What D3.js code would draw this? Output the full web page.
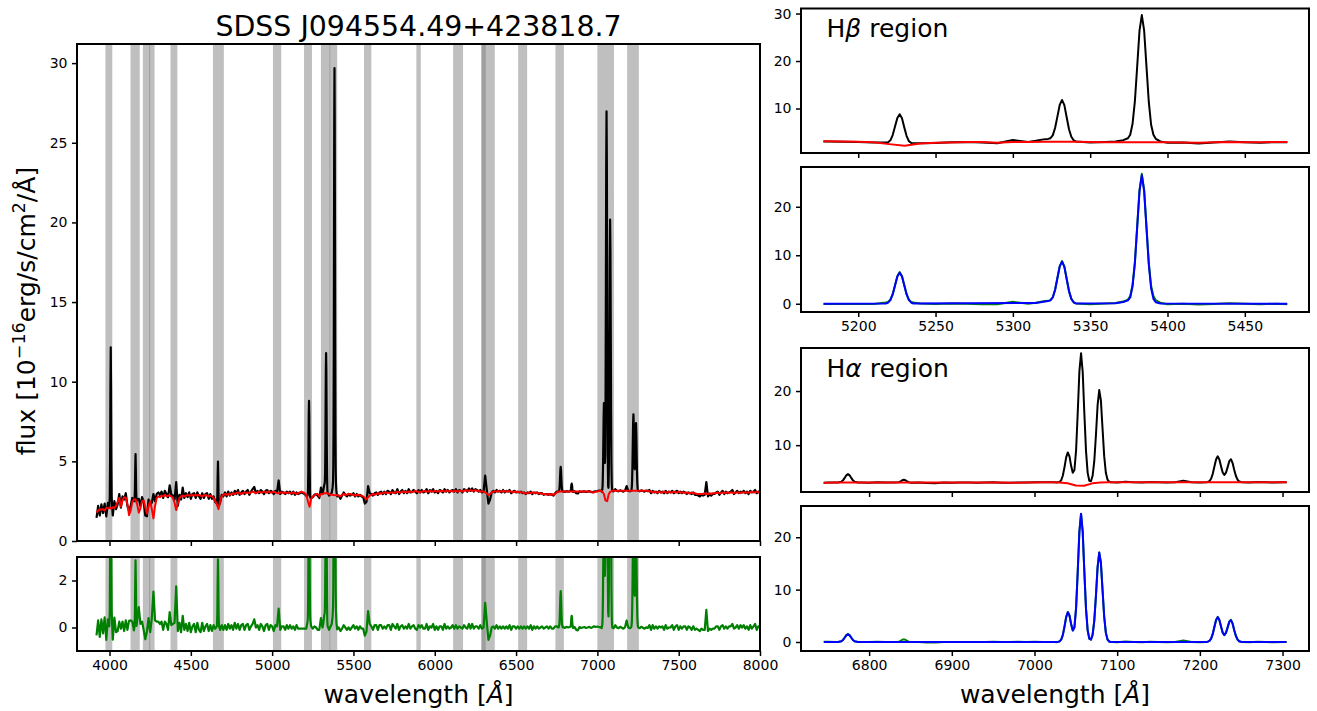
<!DOCTYPE html>
<html><head><meta charset="utf-8">
<script src="https://cdn.jsdelivr.net/npm/d3@7"></script>
<style>body{margin:0;background:#fff}svg{display:block}text{font-family:"DejaVu Sans",sans-serif}</style>
</head><body><svg id="c" width="1317" height="711"></svg>
<script>
// ---------------- DATA ----------------
const titleText = "SDSS J094554.49+423818.7";
// regular wavelength sampling of the continuum spectrum (Angstrom)
const gridStart = 3920, gridStep = 10;
// stellar (host) model flux, red
const stellarFlux = [
1.78,1.9,2.0,1.95,2.0,1.92,2.08,2.05,2.1,2.02,
2.12,2.08,2.2,2.45,2.7,2.15,2.55,2.75,2.7,2.3,
1.62,1.9,2.45,2.62,2.6,2.3,1.78,2.05,2.5,2.55,
2.1,1.72,2.2,2.5,2.0,1.42,2.2,2.7,2.8,2.75,
2.85,2.8,2.9,2.8,2.85,2.85,2.8,2.7,2.4,1.95,
2.35,2.7,2.8,2.85,2.8,2.85,2.9,2.85,2.85,2.9,
2.85,2.9,2.85,2.9,2.85,2.8,2.85,2.9,2.85,2.8,
2.85,2.8,2.7,2.5,2.3,2.0,2.5,2.8,2.9,2.95,
2.9,2.95,2.9,2.95,3.0,2.95,3.0,3.05,3.0,2.95,
3.0,3.05,3.0,3.05,3.0,3.05,3.1,3.05,3.0,3.05,
3.1,3.05,3.05,3.1,3.05,3.05,3.1,3.05,3.05,3.1,
3.05,3.0,3.0,3.05,3.05,3.0,3.05,3.0,3.05,3.0,
3.0,3.05,3.0,2.95,3.0,3.05,3.1,3.05,3.0,2.9,
2.5,2.15,2.65,2.8,2.85,2.95,2.95,2.8,2.95,2.95,
3.0,3.0,3.0,2.95,2.9,2.9,2.88,2.87,2.88,2.85,
2.8,2.9,2.95,2.9,2.9,2.95,2.95,2.9,2.9,2.85,
2.9,2.9,2.85,2.85,2.8,2.7,2.62,2.75,2.85,2.9,
2.95,2.9,2.95,3.0,2.95,3.0,3.0,3.05,3.0,3.05,
3.0,3.05,3.05,3.0,3.05,3.1,3.05,3.05,3.1,3.05,
3.1,3.05,3.1,3.1,3.05,3.1,3.15,3.1,3.1,3.05,
3.1,3.1,3.15,3.1,3.1,3.15,3.1,3.1,3.15,3.1,
3.1,3.15,3.1,3.15,3.1,3.15,3.15,3.1,3.15,3.1,
3.15,3.15,3.1,3.15,3.15,3.1,3.15,3.2,3.15,3.15,
3.2,3.15,3.15,3.2,3.15,3.15,3.1,3.1,3.1,3.05,
2.98,2.88,2.95,3.05,3.1,3.1,3.1,3.15,3.1,3.1,
3.15,3.1,3.1,3.15,3.1,3.1,3.05,3.1,3.1,3.05,
3.1,3.05,3.05,3.0,3.0,3.0,3.05,3.0,3.05,3.0,
3.05,3.0,3.0,3.0,2.95,2.95,2.95,2.9,2.95,2.9,
2.95,2.9,2.95,3.05,3.1,3.1,3.1,3.1,3.1,3.1,
3.1,3.1,3.1,3.1,3.1,3.1,3.1,3.1,3.1,3.1,
3.1,3.1,3.1,3.1,3.1,3.05,3.05,3.1,3.1,3.15,
3.15,3.1,2.95,2.55,2.5,2.95,3.1,3.15,3.15,3.15,
3.15,3.15,3.15,3.15,3.15,3.15,3.15,3.15,3.15,3.15,
3.15,3.15,3.15,3.15,3.15,3.15,3.15,3.15,3.15,3.15,
3.1,3.1,3.05,3.1,3.05,3.05,3.1,3.05,3.05,3.1,
3.05,3.05,3.1,3.05,3.05,3.1,3.05,3.05,3.1,3.05,
3.05,3.05,3.0,3.05,3.0,3.0,3.05,3.0,3.0,2.95,
2.95,2.95,2.95,2.95,3.0,2.95,2.95,3.0,2.95,3.0,
3.0,3.0,3.05,3.0,3.0,3.05,3.0,3.05,3.05,3.0,
3.05,3.05,3.0,3.05,3.05,3.05,3.0,3.05,3.05,3.05,
3.05,3.05,3.05,3.1,3.05,3.05,3.1,3.05,3.05];
// observed flux on the same sampling, black
const dataFlux = [
1.45,2.2,1.6,2.3,1.75,2.35,1.55,2.4,2.0,2.3,
1.6,2.5,2.0,2.3,2.95,2.1,2.8,2.6,3.0,2.2,
1.9,2.2,2.7,2.5,2.6,2.6,2.65,2.2,2.75,2.45,
1.6,1.55,2.6,2.3,2.4,2.95,2.5,2.95,3.05,2.9,
3.1,2.7,3.15,2.95,2.75,3.5,2.9,2.85,2.6,3.7,
2.2,2.9,2.6,3.35,2.7,3.0,2.75,3.05,2.65,2.95,
3.0,2.7,3.05,2.8,2.65,3.0,2.7,2.95,3.0,2.65,
2.95,2.65,2.8,2.45,2.35,2.1,2.4,2.9,2.8,3.05,
2.8,3.1,2.85,3.05,2.9,3.15,2.95,3.2,2.9,3.05,
3.15,2.95,3.1,3.2,2.9,3.1,3.25,3.4,3.0,3.15,
3.0,3.2,3.1,2.95,3.15,3.2,3.0,3.15,3.1,2.95,
3.15,3.05,3.8,2.95,3.1,3.05,2.95,3.1,3.0,3.1,
2.95,3.1,2.9,3.05,2.95,3.0,3.05,3.0,2.95,2.85,
2.8,2.8,2.7,2.75,2.9,2.95,2.85,2.7,3.35,2.95,
3.0,3.0,3.0,2.85,2.95,2.9,2.9,2.9,2.8,2.85,
2.65,2.85,3.05,2.9,2.8,2.95,2.85,2.9,3.0,2.8,
2.95,2.8,2.9,2.8,2.75,2.35,2.45,3.45,3.0,2.95,
2.85,3.0,3.05,2.9,3.05,3.1,2.95,3.1,2.95,3.15,
3.1,2.95,3.2,3.05,3.0,3.25,2.95,3.1,3.2,3.0,
3.15,3.0,3.25,3.05,3.1,3.2,3.1,3.0,3.2,3.05,
3.2,3.05,3.1,3.25,3.0,3.2,3.1,3.25,3.05,3.15,
3.0,3.2,3.15,3.05,3.25,3.1,3.2,3.05,3.15,3.2,
3.1,3.25,3.05,3.2,3.15,3.05,3.25,3.2,3.1,3.3,
3.15,3.3,3.1,3.25,3.2,3.1,3.2,3.05,3.1,4.1,
3.2,2.35,2.6,3.05,3.15,3.05,3.2,3.1,3.15,3.05,
3.2,3.05,3.15,3.1,3.2,3.0,3.1,3.15,3.05,3.1,
3.05,3.1,3.0,3.05,2.95,3.05,3.0,3.1,2.95,3.05,
3.0,3.05,2.95,3.0,3.0,2.9,2.95,2.95,2.9,2.95,
2.9,2.85,3.0,3.1,3.1,3.1,3.1,3.12,3.08,3.13,
3.1,3.12,3.1,3.08,3.12,3.0,2.98,3.12,3.08,3.1,
3.12,3.08,3.1,3.13,3.08,3.06,3.1,3.12,3.14,3.17,
3.15,3.1,2.95,2.55,2.5,2.95,3.1,3.15,3.12,3.25,
3.15,3.12,3.18,3.14,3.1,3.16,3.45,3.15,3.12,3.15,
3.15,3.15,3.15,3.15,3.12,3.18,3.14,3.1,3.16,3.13,
3.2,3.0,3.15,3.05,3.1,3.0,3.15,3.05,3.1,3.0,
3.15,3.0,3.1,3.05,3.15,3.0,3.1,3.15,3.0,3.1,
3.0,3.1,3.05,2.95,3.05,3.0,2.95,3.05,2.9,2.9,
2.85,2.8,2.9,2.85,2.9,3.7,2.8,2.95,2.85,2.95,
2.95,3.05,3.1,2.9,3.05,3.15,2.95,3.1,3.0,3.05,
3.1,3.2,2.95,3.05,3.15,3.0,3.1,3.05,3.15,3.0,
3.1,2.95,3.15,3.05,3.1,3.2,3.0,3.1,3.1];
// finely sampled emission-line regions: wavelength, observed flux, residual (data - stellar), line-fit model
const emWave = [
3998.5,4001.5,4003.5,4005.5,4007.5,4009.5,4011.5,4013.5,4016.5,
4154,4156,4158,4160,4162,4164,4166,
4660.9,4662.9,4664.9,4666.9,4668.9,4670.9,4672.9,
5217.8,5219.3,5220.8,5222.3,5223.8,5225.3,5226.8,5228.3,5229.8,5231.3,5232.8,5234.3,5235.8,
5314.8,5319.8,5322.8,5324.3,5325.8,5327.3,5328.8,5330.3,5331.8,5333.3,5334.8,5336.3,5337.8,5339.3,5340.8,
5366.4,5371.4,5374.4,5375.9,5377.4,5378.9,5380.4,5381.9,5383.4,5384.9,5386.4,5387.9,5389.4,5390.9,5392.4,5395.4,
6762.4,6766.4,6768.4,6770.4,6772.4,6774.4,6776.4,6778.4,6780.4,6782.4,6786.4,
6836,6838,6840,6842,6844,6846,6848,
7024.3,7026.3,7028.3,7030.3,7032.3,7034.3,7036.3,7038.3,7040.3,7042.3,7044.3,7046.3,7048.3,7050.3,7052.3,7054.3,7056.3,7058.3,
7060.3,7062.3,7064.3,7066.3,7068.3,7070.3,7072.3,7074.3,7076.3,7078.3,7080.3,7082.3,7084.3,7086.3,7088.3,7090.3,7092.3,7094.3,
7207.6,7209.6,7211.6,7213.6,7215.6,7217.6,7219.6,7221.6,7223.6,7225.6,7227.6,7229.6,7231.6,7233.6,7235.6,7237.6,7239.6,7241.6,
7243.6,7245.6,7247.6,7249.6,7251.6];
const emFlux = [
2.1,2.75,5.14,9.56,12.15,9.55,5.12,2.73,2.08,
2.68,3.15,4.49,5.46,4.43,3.02,2.49,
2.34,2.76,4.06,4.99,3.94,2.6,2.22,
2.85,2.9,3.3,4.4,6.2,8.0,8.8,7.95,6.0,4.2,3.1,2.75,2.7,
3.2,3.5,3.6,3.75,4.35,5.9,8.3,10.75,11.8,10.7,8.16,5.64,4.04,3.31,3.07,
3.03,3.33,3.73,4.48,6.78,11.48,18.88,26.38,29.68,26.38,18.88,11.38,6.58,4.48,3.63,3.08,
3.12,3.24,3.5,3.95,4.43,4.65,4.43,3.95,3.5,3.24,3.11,
3.15,3.3,3.52,3.6,3.52,3.3,3.15,
3.17,3.1,3.16,3.22,3.52,4.4,5.95,7.75,8.66,7.92,6.18,4.9,5.42,9.05,16.04,23.63,26.97,23.56,
15.91,8.95,4.89,3.43,3.34,4.35,7.04,11.83,17.34,20.17,18.25,13.07,7.97,4.91,3.64,3.25,3.15,3.13,
3.16,3.2,3.36,3.79,4.71,6.05,7.35,7.95,7.37,6.11,4.95,4.5,4.93,5.95,7.05,7.4,6.7,5.4,
4.31,3.62,3.3,3.19,3.15];
const emResid = [
0.05,0.7,3.09,7.51,10.1,7.51,3.09,0.7,0.05,
0.07,0.54,1.89,2.86,1.89,0.54,0.07,
0.07,0.55,1.91,2.9,1.91,0.55,0.07,
0.26,0.37,0.83,1.98,3.83,5.69,6.54,5.74,3.84,1.98,0.81,0.38,0.26,
0.2,0.5,0.6,0.75,1.35,2.9,5.3,7.75,8.8,7.7,5.16,2.64,1.04,0.31,0.07,
0.15,0.45,0.85,1.6,3.9,8.6,16.0,23.5,26.8,23.5,16.0,8.5,3.7,1.6,0.75,0.2,
0.01,0.14,0.4,0.85,1.33,1.55,1.33,0.85,0.4,0.14,0.01,
0.05,0.2,0.42,0.5,0.42,0.2,0.05,
0.02,-0.03,0.04,0.12,0.45,1.36,2.95,4.78,5.72,5.06,3.4,2.2,2.8,6.5,13.5,21.1,24.45,21.05,
13.4,6.35,2.2,0.65,0.47,1.4,4.06,8.82,14.3,17.1,15.15,9.96,4.85,1.78,0.5,0.1,0.0,-0.02,
0.01,0.05,0.21,0.64,1.56,2.9,4.2,4.8,4.22,2.96,1.8,1.35,1.78,2.8,3.9,4.25,3.55,2.25,
1.16,0.47,0.15,0.04,0.0];
const emModel = [
0.05,0.7,3.09,7.51,10.1,7.51,3.09,0.7,0.05,
0.07,0.54,1.89,2.86,1.89,0.54,0.07,
0.07,0.55,1.91,2.9,1.91,0.55,0.07,
0.05,0.22,0.76,1.92,3.75,5.6,6.4,5.6,3.75,1.92,0.76,0.22,0.05,
0.15,0.4,0.55,0.7,1.3,2.85,5.25,7.7,8.7,7.6,5.1,2.6,1.0,0.3,0.07,
0.1,0.35,0.7,1.3,3.6,8.3,15.8,23.2,26.5,23.2,15.6,8.1,3.2,1.0,0.3,0.05,
0.01,0.13,0.38,0.81,1.26,1.47,1.26,0.81,0.38,0.13,0.01,
0,0,0,0,0,0,0,
0,0,0.02,0.11,0.45,1.34,2.94,4.75,5.69,5.06,3.42,2.18,2.78,6.47,13.46,21.07,24.5,21.07,
13.43,6.32,2.21,0.63,0.45,1.38,4.04,8.81,14.26,17.07,15.13,9.94,4.82,1.74,0.46,0.09,0.01,0,
0.01,0.05,0.21,0.64,1.54,2.88,4.19,4.75,4.2,2.94,1.77,1.31,1.75,2.79,3.85,4.15,3.5,2.24,
1.14,0.45,0.14,0.03,0];
// masked wavelength windows (grey bands)
const bandStart = [3975,4129,4205,4243,4375,4636,5005,5196,5300,5352,5565,5887,6113,6287,6287,6513,6742,7000,7183];
const bandEnd   = [4017,4186,4250,4277,4417,4703,5056,5245,5358,5400,5610,5914,6174,6314,6369,6568,6794,7102,7255];
// zoom windows
const hbWindow = [5177.5, 5477.5];
const haWindow = [6745, 7305];
// axis ranges & ticks
const mainXDomain = [3800, 8000], mainYDomain = [0, 31.2], residYDomain = [-1, 3];
const mainXTicks = [4000,4500,5000,5500,6000,6500,7000,7500,8000];
const mainYTicks = [0,5,10,15,20,25,30];
const residYTicks = [0,2];
const hbXDomain = [5163, 5491.5], hbTopY = [0.63, 31.06], hbBotY = [-1.7, 28.2];
const hbXTicks = [5200,5250,5300,5350,5400,5450];
const hbTopYTicks = [10,20,30], hbBotYTicks = [0,10,20];
const haXDomain = [6717.6, 7332], haTopY = [1.35, 27.95], haBotY = [-1.72, 25.97];
const haXTicks = [6800,6900,7000,7100,7200,7300];
const haTopYTicks = [10,20], haBotYTicks = [0,10,20];

// ---------------- PREP ----------------
const gridWave = stellarFlux.map((_, i) => gridStart + i * gridStep);
const blocks = [];
emWave.forEach((w, i) => {
  if (!blocks.length || w - emWave[i - 1] > 6) blocks.push([w, w]);
  else blocks[blocks.length - 1][1] = w;
});
const inBlock = w => blocks.some(b => w >= b[0] && w <= b[1]);
const dataPts = gridWave.map((w, i) => ({w, f: dataFlux[i], r: dataFlux[i] - stellarFlux[i]}))
  .filter(p => !inBlock(p.w))
  .concat(emWave.map((w, i) => ({w, f: emFlux[i], r: emResid[i]})))
  .sort((a, b) => a.w - b.w);
const stellarPts = gridWave.map((w, i) => ({w, f: stellarFlux[i]}));
function modelPts(win) {
  const pts = [{w: win[0], f: 0}];
  emWave.forEach((w, i) => { if (w > win[0] && w < win[1]) pts.push({w, f: emModel[i]}); });
  pts.push({w: win[1], f: 0});
  return pts;
}

// ---------------- DRAW ----------------
const svg = d3.select('#c');
const defs = svg.append('defs');
let cid = 0;
function clip(x0, y0, x1, y1) {
  const id = 'cl' + (cid++);
  defs.append('clipPath').attr('id', id).append('rect')
    .attr('x', x0).attr('y', y0).attr('width', x1 - x0).attr('height', y1 - y0);
  return `url(#${id})`;
}
function panel(px0, px1, py0, py1, xDom, yDom, win) {
  const x = d3.scaleLinear().domain(xDom).range([px0, px1]);
  const y = d3.scaleLinear().domain(yDom).range([py1, py0]);
  const g = svg.append('g');
  const plot = g.append('g').attr('clip-path', clip(px0, py0, px1, py1));
  const bg = plot.append('g');
  const cx0 = win ? Math.max(px0, x(win[0])) : px0, cx1 = win ? Math.min(px1, x(win[1])) : px1;
  const lines = plot.append('g').attr('clip-path', clip(cx0, py0, cx1, py1));
  return {x, y, g, plot, bg, lines, px0, px1, py0, py1};
}
function axes(p, xTicks, yTicks, xLabels) {
  const xa = d3.axisBottom(p.x).tickValues(xTicks).tickSize(5).tickPadding(4.5)
    .tickFormat(xLabels ? d3.format('d') : () => '');
  const ya = d3.axisLeft(p.y).tickValues(yTicks).tickSize(5).tickPadding(4.5).tickFormat(d3.format('d'));
  const gx = p.g.append('g').attr('transform', `translate(0,${p.py1})`).call(xa);
  const gy = p.g.append('g').attr('transform', `translate(${p.px0},0)`).call(ya);
  [gx, gy].forEach(a => {
    a.select('.domain').remove();
    a.selectAll('line').attr('stroke', '#000').attr('stroke-width', 1.5);
    a.selectAll('text').attr('font-size', 14).attr('fill', '#000').attr('font-family', '"DejaVu Sans", sans-serif');
  });
  p.g.append('rect').attr('x', p.px0).attr('y', p.py0).attr('width', p.px1 - p.px0).attr('height', p.py1 - p.py0)
    .attr('fill', 'none').attr('stroke', '#000').attr('stroke-width', 2);
}
function bands(p) {
  bandStart.forEach((s, i) => {
    p.bg.append('rect').attr('x', p.x(s)).attr('width', p.x(bandEnd[i]) - p.x(s))
      .attr('y', p.py0).attr('height', p.py1 - p.py0).attr('fill', '#808080').attr('fill-opacity', 0.5);
  });
}
function drawLine(p, pts, key, color, width) {
  const ln = d3.line().x(d => p.x(d.w)).y(d => p.y(d[key]));
  p.lines.append('path').datum(pts).attr('d', ln).attr('fill', 'none')
    .attr('stroke', color).attr('stroke-width', width).attr('stroke-linejoin', 'round');
}
const inWin = (win, pad) => d => d.w >= win[0] - pad && d.w <= win[1] + pad;

// main spectrum panel
const pm = panel(77, 760, 44, 541, mainXDomain, mainYDomain);
bands(pm);
drawLine(pm, dataPts, 'f', '#000', 2.2);
drawLine(pm, stellarPts, 'f', '#ff0000', 2);
axes(pm, mainXTicks, mainYTicks, false);

// residual panel
const pr = panel(77, 760, 557, 651, mainXDomain, residYDomain);
bands(pr);
drawLine(pr, dataPts, 'r', '#008000', 2.2);
axes(pr, mainXTicks, residYTicks, true);

// H beta region
const hbt = panel(801, 1309, 8.5, 153, hbXDomain, hbTopY, hbWindow);
drawLine(hbt, dataPts.filter(inWin(hbWindow, 15)), 'f', '#000', 2);
drawLine(hbt, stellarPts.filter(inWin(hbWindow, 15)), 'f', '#ff0000', 2);
axes(hbt, hbXTicks, hbTopYTicks, false);
const hbb = panel(801, 1309, 167, 312, hbXDomain, hbBotY, hbWindow);
drawLine(hbb, dataPts.filter(inWin(hbWindow, 15)), 'r', '#008000', 2);
drawLine(hbb, modelPts(hbWindow), 'f', '#0000ff', 2);
axes(hbb, hbXTicks, hbBotYTicks, true);

// H alpha region
const hat = panel(801, 1309, 348, 492, haXDomain, haTopY, haWindow);
drawLine(hat, dataPts.filter(inWin(haWindow, 15)), 'f', '#000', 2);
drawLine(hat, stellarPts.filter(inWin(haWindow, 15)), 'f', '#ff0000', 2);
axes(hat, haXTicks, haTopYTicks, false);
const hab = panel(801, 1309, 506, 651, haXDomain, haBotY, haWindow);
drawLine(hab, dataPts.filter(inWin(haWindow, 15)), 'r', '#008000', 2);
drawLine(hab, modelPts(haWindow), 'f', '#0000ff', 2);
axes(hab, haXTicks, haBotYTicks, true);

// texts
svg.append('text').attr('x', 418.5).attr('y', 36).attr('text-anchor', 'middle')
  .attr('font-size', 28.4).text(titleText);
function wlLabel(x) {
  const t = svg.append('text').attr('x', x).attr('y', 703).attr('text-anchor', 'middle').attr('font-size', 25);
  t.append('tspan').text('wavelength [');
  t.append('tspan').attr('font-style', 'italic').text('Å');
  t.append('tspan').text(']');
}
wlLabel(418.5);
wlLabel(1055);
const yl = svg.append('text').attr('transform', 'translate(35,311) rotate(-90)')
  .attr('text-anchor', 'middle').attr('font-size', 25);
yl.append('tspan').text('flux [10');
yl.append('tspan').attr('font-size', 17.5).attr('dy', -10).text('−16');
yl.append('tspan').attr('dy', 10).text('erg/s/cm');
yl.append('tspan').attr('font-size', 17.5).attr('dy', -10).text('2');
yl.append('tspan').attr('dy', 10).text('/Å]');
function regionLabel(y, greek) {
  const t = svg.append('text').attr('x', 826.5).attr('y', y).attr('font-size', 25);
  t.append('tspan').text('H');
  t.append('tspan').attr('font-style', 'italic').text(greek);
  t.append('tspan').text(' region');
}
regionLabel(36.7, 'β');
regionLabel(376.7, 'α');
</script></body></html>
